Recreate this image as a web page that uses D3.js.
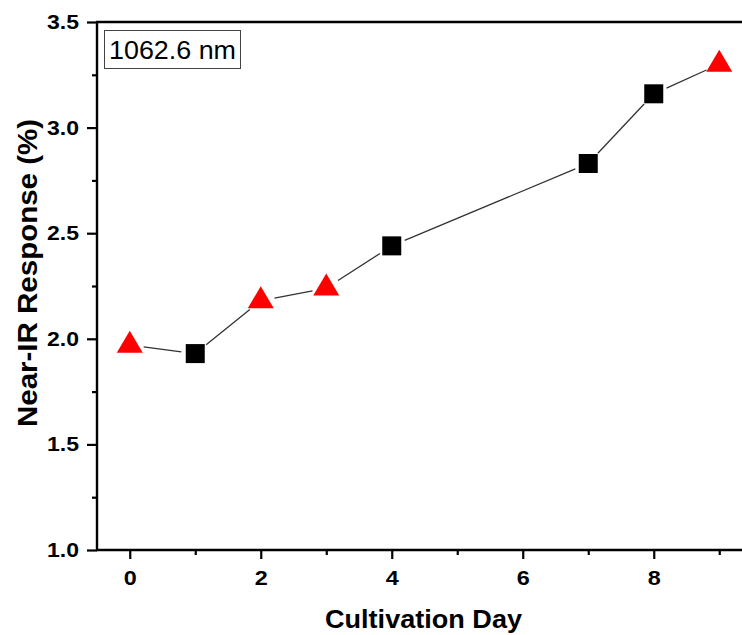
<!DOCTYPE html>
<html lang="en">
<head>
<meta charset="UTF-8" />
<style>
  body { margin: 0; background: #fff; }
  svg { display: block; font-family: "Liberation Sans", Arial, sans-serif; }
</style>
</head>
<body>
<svg id="chart" width="742" height="635"></svg>
<script src="https://d3js.org/d3.v7.min.js"></script>
<script>
// data
var days = [0, 1, 2, 3, 4, 7, 8, 9];
var response = [1.97, 1.93, 2.18, 2.24, 2.44, 2.83, 3.16, 3.30];
var shapes = ["tri", "sq", "tri", "tri", "sq", "sq", "sq", "tri"];
var xTicks = [0, 2, 4, 6, 8];
var yTicks = [1.0, 1.5, 2.0, 2.5, 3.0, 3.5];
var legendText = "1062.6 nm";

var svg = d3.select("#chart");
var padL = 97, padR = 752, padT = 22, padB = 550;

var x = d3.scaleLinear().domain([-0.5, 9.5]).range([padL, padR]);
var y = d3.scaleLinear().domain([1.0, 3.5]).range([padB, padT]);

// connecting line, with gaps at each marker (like Origin does)
var pts = days.map((d, i) => [x(d), y(response[i])]);
var gap = 14;
for (var i = 0; i < pts.length - 1; i++) {
    var a = pts[i], b = pts[i + 1];
    var dx = b[0] - a[0], dy = b[1] - a[1];
    var len = Math.sqrt(dx * dx + dy * dy);
    var ux = dx / len, uy = dy / len;
    svg.append("line")
        .attr("x1", a[0] + ux * gap).attr("y1", a[1] + uy * gap)
        .attr("x2", b[0] - ux * gap).attr("y2", b[1] - uy * gap)
        .attr("stroke", "#333").attr("stroke-width", 1.3);
}

// markers
var g = svg.append("g");
days.forEach(function (d, i) {
    var cx = x(d), cy = y(response[i]);
    if (shapes[i] == "sq") {
        g.append("rect")
            .attr("x", cx - 9.5).attr("y", cy - 9.5)
            .attr("width", 19).attr("height", 19)
            .attr("fill", "#000");
    } else {
        g.append("path")
            .attr("d", `M${cx},${cy - 14.5} L${cx + 13},${cy + 7.5} L${cx - 13},${cy + 7.5} Z`)
            .attr("fill", "#ff0000");
    }
});

// axes
var xMinor = [1, 3, 5, 7, 9];
var yMinor = [1.25, 1.75, 2.25, 2.75, 3.25];

svg.append("g").attr("transform", `translate(0,${padB})`)
    .call(d3.axisBottom(x).tickValues(xTicks).tickSize(9).tickPadding(12).tickFormat(d3.format("d")));
svg.append("g").attr("transform", `translate(0,${padB})`)
    .call(d3.axisBottom(x).tickValues(xMinor).tickSize(5).tickFormat(""));

svg.append("g").attr("transform", `translate(${padL},0)`)
    .call(d3.axisLeft(y).tickValues(yTicks).tickSize(10).tickPadding(8).tickFormat(d3.format(".1f")));
svg.append("g").attr("transform", `translate(${padL},0)`)
    .call(d3.axisLeft(y).tickValues(yMinor).tickSize(5).tickFormat(""));

svg.selectAll(".domain").remove();
svg.selectAll(".tick line").attr("stroke-width", 2.2);
// tick numbers, a little wider than plain Arial bold in the original
svg.selectAll(".tick text")
    .style("font-family", "'Liberation Sans', Arial, sans-serif")
    .style("font-size", "20px").style("font-weight", "bold").attr("fill", "#000")
    .attr("textLength", function () { return this.textContent.length == 1 ? 13 : 32; })
    .attr("lengthAdjust", "spacingAndGlyphs");

// frame lines (left, bottom, top)
svg.append("line").attr("x1", padL - 1).attr("x2", padR).attr("y1", padB).attr("y2", padB)
    .attr("stroke", "#000").attr("stroke-width", 2.4);
svg.append("line").attr("x1", padL - 1).attr("x2", padR).attr("y1", padT).attr("y2", padT)
    .attr("stroke", "#000").attr("stroke-width", 2.4);
svg.append("line").attr("x1", padL).attr("x2", padL).attr("y1", padT - 1).attr("y2", padB + 1)
    .attr("stroke", "#000").attr("stroke-width", 2.4);

// axis titles
svg.append("text")
    .attr("x", 423.5).attr("y", 628)
    .attr("text-anchor", "middle")
    .attr("font-size", 26).attr("font-weight", "bold")
    .attr("textLength", 197).attr("lengthAdjust", "spacingAndGlyphs")
    .text("Cultivation Day");

svg.append("text")
    .attr("transform", `translate(37,273) rotate(-90)`)
    .attr("text-anchor", "middle")
    .attr("font-size", 27).attr("font-weight", "bold")
    .attr("textLength", 308).attr("lengthAdjust", "spacingAndGlyphs")
    .text("Near-IR Response (%)");

// legend box
svg.append("rect")
    .attr("x", 104.5).attr("y", 30.5).attr("width", 136).attr("height", 38)
    .attr("fill", "#fff").attr("stroke", "#444").attr("stroke-width", 1);
svg.append("text")
    .attr("x", 109).attr("y", 58.5)
    .attr("font-size", 26)
    .attr("textLength", 127).attr("lengthAdjust", "spacingAndGlyphs")
    .text(legendText);
</script>
</body>
</html>
